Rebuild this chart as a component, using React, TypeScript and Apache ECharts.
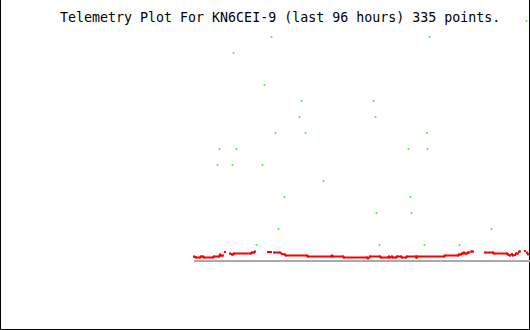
import React, { useEffect, useRef } from "react";
import * as echarts from "echarts";

// Title
const titleText = "Telemetry Plot For KN6CEI-9 (last 96 hours) 335 points.";

// X range (hours in the 96-hour window)
const hourMin = 0;
const hourMax = 96;

// Green telemetry readings (hour, level)
const greenHours = [
  41.03, 49.18, 95.37,
  49.18, 77.8,
  42.29,
  47.91,
  54.61, 67.65,
  54.25, 68.02,
  49.9, 55.34, 77.34,
  39.76, 42.84, 73.99, 77.43,
  39.4, 42.11, 47.55,
  58.6,
  51.53, 74.35,
  68.2, 74.54,
  50.45, 89.03,
  46.46, 68.74, 76.89, 83.23,
];
const greenLevels = [
  15, 15, 15,
  14, 14,
  13,
  11,
  10, 10,
  9, 9,
  8, 8, 8,
  7, 7, 7, 7,
  6, 6, 6,
  5,
  4, 4,
  3, 3,
  2, 2,
  1, 1, 1, 1,
];

// Red telemetry trace (hour, value); null = gap in data
const redHours = [
  35.14, 35.5, 36.23, 36.41, 36.77, 36.95, 38.58, 38.76, 39.67, 39.85, 40.03, 40.39,
  40.6, 40.75, 41.2,
  41.66, 42.02, 42.2, 42.38, 45.46, 45.65, 46.01, 46.19,
  47.0, 48.54, 49.09, 49.4,
  49.63, 50.72, 51.08, 51.62, 51.8, 55.61, 55.79, 59.95, 60.14, 60.32, 62.13, 62.31,
  66.48, 66.66, 67.02, 68.83, 69.01, 70.28, 70.46, 70.64, 71.0, 71.18, 71.73, 71.91,
  72.63, 72.82, 73.54, 73.72, 75.35, 75.44, 75.53, 80.42, 80.6, 82.96, 83.14, 83.5,
  83.68, 83.86, 84.05, 84.23, 84.59, 84.77, 84.95,
  85.1, 85.31, 85.67, 86.5,
  87.85, 89.3, 89.48, 91.83, 92.02, 92.38, 92.74, 92.92, 93.28, 93.46, 93.83,
  93.9, 94.01, 94.19, 94.6, 95.09, 95.3,
  95.46, 95.64,
];
const redValues: (number | null)[] = [
  0.28, 0.22, 0.22, 0.28, 0.28, 0.22, 0.22, 0.28, 0.28, 0.41, 0.34, 0.34,
  null, 0.56, null,
  0.47, 0.41, 0.41, 0.47, 0.47, 0.53, 0.53, 0.59,
  null, 0.56, 0.56, null,
  0.53, 0.53, 0.44, 0.41, 0.34, 0.34, 0.28, 0.28, 0.34, 0.28, 0.28, 0.22,
  0.22, 0.16, 0.28, 0.28, 0.22, 0.22, 0.28, 0.22, 0.28, 0.22, 0.22, 0.28,
  0.28, 0.22, 0.22, 0.28, 0.28, 0.19, 0.28, 0.28, 0.34, 0.34, 0.41, 0.41,
  0.47, 0.47, 0.53, 0.47, 0.47, 0.53, 0.53,
  null, 0.59, 0.59, null,
  0.53, 0.53, 0.47, 0.47, 0.41, 0.34, 0.44, 0.34, 0.38, 0.47, 0.47,
  null, 0.59, 0.59, null, 0.63, null,
  0.53, 0.41,
];

// Zero baseline span
const baseHours = [35.14, 96];
const baseValues = [0, 0];

export default function App() {
  const ref = useRef<HTMLDivElement>(null);

  useEffect(() => {
    document.body.style.margin = "0";
    if (!ref.current) return;
    const chart = echarts.init(ref.current, null, { renderer: "svg" });
    chart.setOption({
      animation: false,
      backgroundColor: "#ffffff",
      grid: { left: 0, right: 0, top: 21, bottom: 69 },
      xAxis: { type: "value", min: hourMin, max: hourMax, show: false },
      yAxis: { type: "value", min: 0, max: 15, show: false },
      title: {
        text: titleText,
        left: 60,
        top: 10,
        padding: 0,
        textStyle: {
          fontFamily: "DejaVu Sans Mono",
          fontSize: 13.3,
          fontWeight: "normal",
          color: "#000000",
          lineHeight: 15,
        },
      },
      graphic: [
        {
          type: "polyline",
          shape: {
            points: [
              [0.5, 0],
              [0.5, 329.5],
              [529.5, 329.5],
              [529.5, 0],
            ],
          },
          style: { stroke: "#000000", lineWidth: 1, fill: "none" },
        },
      ],
      series: [
        {
          type: "line",
          data: baseHours.map((h, i) => [h, baseValues[i]]),
          showSymbol: false,
          lineStyle: { color: "#aaaaaa", width: 2 },
          silent: true,
        },
        {
          type: "line",
          data: redHours.map((h, i) => [h, redValues[i] === null ? "-" : redValues[i]]),
          connectNulls: false,
          showSymbol: true,
          showAllSymbol: true,
          symbol: "rect",
          symbolSize: 2,
          itemStyle: { color: "#ff0000", borderWidth: 0 },
          lineStyle: { color: "#ff0000", width: 2 },
          silent: true,
        },
        {
          type: "scatter",
          data: greenHours.map((h, i) => [h, greenLevels[i]]),
          symbol: "rect",
          symbolSize: [1.6, 2],
          itemStyle: { color: "#00ff00" },
          silent: true,
        },
      ],
    });
    return () => chart.dispose();
  }, []);

  return <div ref={ref} style={{ width: 530, height: 330 }} />;
}
